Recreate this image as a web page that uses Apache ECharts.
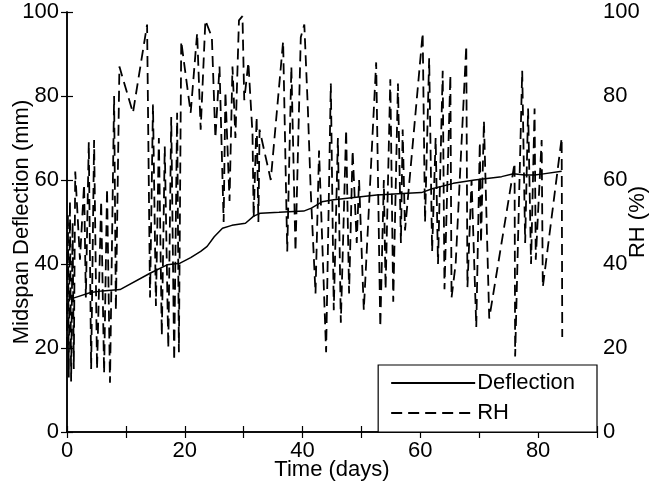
<!DOCTYPE html>
<html>
<head>
<meta charset="utf-8">
<script src="https://cdn.jsdelivr.net/npm/echarts@6/dist/echarts.min.js"></script>
<style>
html,body{margin:0;padding:0;background:#fff;}
#chart{width:658px;height:487px;}
</style>
</head>
<body>
<div id="chart"></div>
<script>
// Deflection (mm) vs time (days)
const deflDays = [0, 2, 4, 6, 9, 14.1, 17, 19.2, 21, 22.7, 23.8, 25, 26.4, 28, 30.3, 31.7, 32.9, 36, 40.2, 41.5, 43.3, 45.3, 49.9, 52.6, 57, 60.2, 62, 65.6, 69.2, 73.8, 75.8, 77.7, 79.4, 80.6, 84];
const deflVals = [31.4, 32.3, 33.2, 33.6, 33.9, 37.8, 39.8, 40.2, 41.5, 43, 44.2, 46.5, 48.5, 49.2, 49.7, 51.4, 52.1, 52.3, 52.6, 53.3, 54.8, 55.3, 56, 56.4, 56.8, 57, 57.9, 59.2, 60, 60.8, 61.5, 61.2, 61.2, 61.4, 62.1];

// RH (%) vs time (days)
const rhDays = [0.0, 0.15, 0.3, 0.5, 0.7, 0.95, 1.15, 1.4, 2.2, 2.9, 3.2, 3.7, 4.1, 4.6, 5.1, 5.8, 6.3, 6.8, 7.3, 8.0, 8.3, 8.9, 11.2, 13.6, 14.1, 14.6, 15.1, 15.6, 16.1, 16.6, 17.2, 17.7, 18.2, 18.7, 19.0, 19.4, 21.0, 22.1, 22.7, 23.5, 24.6, 25.2, 25.9, 26.6, 26.9, 27.6, 28.1, 28.6, 29.2, 29.8, 30.1, 30.8, 31.5, 31.7, 32.2, 32.5, 32.7, 34.6, 36.7, 37.4, 38.1, 38.8, 39.7, 40.3, 40.9, 41.4, 42.2, 42.8, 44.0, 44.8, 45.3, 46.0, 46.5, 47.4, 47.9, 48.5, 49.2, 49.6, 50.4, 52.5, 53.2, 53.8, 54.1, 54.9, 55.4, 56.2, 56.7, 57.0, 57.4, 60.4, 60.8, 61.5, 62.0, 62.6, 63.0, 63.8, 64.1, 65.1, 65.3, 66.0, 67.8, 68.0, 68.7, 69.5, 70.1, 70.3, 70.8, 71.7, 76.0, 76.1, 77.3, 77.8, 78.3, 78.8, 79.4, 79.6, 80.6, 80.8, 84.0, 84.1];
const rhVals = [20, 52, 13, 55, 12, 50, 15, 62, 41, 59, 32, 69, 15, 69.5, 15, 55, 14, 58, 11.7, 80, 29, 87, 76, 97, 32, 78, 30, 70, 23, 68, 20, 75, 17, 76, 19, 93, 76, 95, 72, 98, 94, 70, 87, 50, 81, 55, 87, 70, 98, 99, 79, 88, 71, 51, 75, 50, 72, 60, 93, 43, 87, 43, 94, 97, 77, 57, 33, 67, 19, 83, 29, 70, 26, 72, 33, 67, 45, 60, 29, 88, 25, 60, 34, 84, 31, 83, 45, 72, 48, 95, 50, 89, 43, 70, 40, 86, 34, 85, 32, 40, 92, 34.5, 60, 25, 69, 45, 74, 27, 64, 18, 86, 45, 77, 40, 77, 41, 69.5, 34.5, 70, 22.6];

const xTicks = [0, 20, 40, 60, 80];
const yTicks = [0, 20, 40, 60, 80, 100];

const FONT = 'Liberation Sans';
const deflData = deflDays.map((d, i) => [d, deflVals[i]]);
const rhData = rhDays.map((d, i) => [d, rhVals[i]]);

const chart = echarts.init(document.getElementById('chart'), null, {renderer: 'canvas'});
const axisLine = {show: true, lineStyle: {color: '#000', width: 1.5}};
const tickIn = {show: true, inside: true, length: 6, lineStyle: {color: '#000', width: 1.2}};
const labelStyle = {color: '#000', fontSize: 22, fontFamily: FONT};
const nameStyle = {color: '#000', fontSize: 22, fontFamily: FONT};

chart.setOption({
  animation: false,
  backgroundColor: '#fff',
  grid: {left: 67, right: 61, top: 12, bottom: 55, containLabel: false, outerBoundsMode: 'none'},
  legend: {
    data: ['Deflection', 'RH'],
    orient: 'vertical',
    right: 61, bottom: 55,
    backgroundColor: '#fff',
    borderColor: '#000', borderWidth: 1.2, borderRadius: 0,
    padding: [7, 22, 8, 12],
    itemWidth: 84, itemHeight: 14, itemGap: 8,
    itemStyle: {opacity: 0, borderWidth: 0},
    textStyle: {color: '#000', fontSize: 22, fontFamily: FONT, padding: [0, 0, 0, -3]}
  },
  xAxis: [{
    type: 'value', min: 0, max: 90, interval: 10, position: 'bottom',
    axisLine: axisLine, axisTick: tickIn, splitLine: {show: false},
    axisLabel: Object.assign({margin: 8, formatter: v => (xTicks.indexOf(v) >= 0 ? String(v) : '')}, labelStyle),
    name: 'Time (days)', nameLocation: 'middle', nameGap: 27, nameMoveOverlap: false,
    nameTextStyle: nameStyle
  }, {
    type: 'value', min: 0, max: 90, interval: 10, position: 'top',
    axisLine: axisLine, axisTick: tickIn, splitLine: {show: false},
    axisLabel: {show: false}
  }],
  yAxis: [{
    type: 'value', min: 0, max: 100, interval: 20, position: 'left',
    axisLine: axisLine, axisTick: tickIn, splitLine: {show: false},
    axisLabel: Object.assign({margin: 8, formatter: v => (yTicks.indexOf(v) >= 0 ? String(v) : '')}, labelStyle),
    name: 'Midspan Deflection (mm)', nameLocation: 'middle', nameGap: 34, nameRotate: 90, nameMoveOverlap: false,
    nameTextStyle: nameStyle
  }, {
    type: 'value', min: 0, max: 100, interval: 20, position: 'right',
    axisLine: axisLine, axisTick: tickIn, splitLine: {show: false},
    axisLabel: Object.assign({margin: 6, formatter: v => (yTicks.indexOf(v) >= 0 ? String(v) : '')}, labelStyle),
    name: 'RH (%)', nameLocation: 'middle', nameGap: 30, nameRotate: 90, nameMoveOverlap: false,
    nameTextStyle: nameStyle
  }],
  series: [{
    name: 'Deflection', type: 'line', xAxisIndex: 0, yAxisIndex: 0,
    data: deflData, symbol: 'none', smooth: false,
    lineStyle: {color: '#000', width: 1.5, type: 'solid'},
    itemStyle: {color: '#000'}, z: 3
  }, {
    name: 'RH', type: 'line', xAxisIndex: 0, yAxisIndex: 1,
    data: rhData, symbol: 'none', smooth: false,
    lineStyle: {color: '#000', width: 1.8, type: [11, 6]},
    itemStyle: {color: '#000'}, z: 2
  }]
});
</script>
</body>
</html>
